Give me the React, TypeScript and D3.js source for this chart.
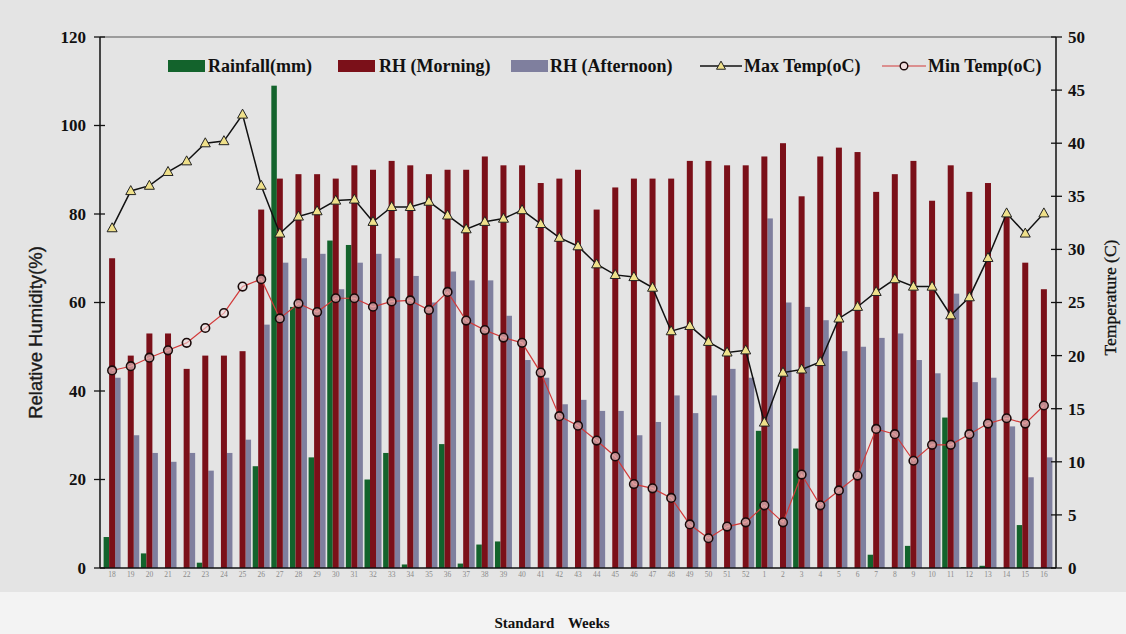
import React from 'react';
import * as d3 from 'd3';

// Standard meteorological weeks (18–52, then 1–16 of the following year)
const weeks: string[] = [
  '18', '19', '20', '21', '22', '23', '24', '25', '26', '27', '28', '29', '30', '31', '32', '33', '34',
  '35', '36', '37', '38', '39', '40', '41', '42', '43', '44', '45', '46', '47', '48', '49', '50', '51', '52',
  '1', '2', '3', '4', '5', '6', '7', '8', '9', '10', '11', '12', '13', '14', '15', '16',
];

const rainfall: number[] = [
  7, 0, 3.3, 0, 0, 1.2, 0, 0, 23, 109, 59, 25, 74, 73, 20, 26, 0.8,
  0, 28, 1, 5.3, 6, 0, 0, 0, 0, 0, 0, 0, 0, 0, 0, 0, 0, 0,
  31, 0, 27, 0, 0, 0, 3, 0, 5, 0, 34, 0.2, 0.5, 0, 9.7, 0,
];

const rhMorning: number[] = [
  70, 48, 53, 53, 45, 48, 48, 49, 81, 88, 89, 89, 88, 91, 90, 92, 91,
  89, 90, 90, 93, 91, 91, 87, 88, 90, 81, 86, 88, 88, 88, 92, 92, 91, 91,
  93, 96, 84, 93, 95, 94, 85, 89, 92, 83, 91, 85, 87, 80, 69, 63,
];

const rhAfternoon: number[] = [
  43, 30, 26, 24, 26, 22, 26, 29, 55, 69, 70, 71, 63, 69, 71, 70, 66,
  60, 67, 65, 65, 57, 47, 43, 37, 38, 35.5, 35.5, 30, 33, 39, 35, 39, 45, 43,
  79, 60, 59, 56, 49, 50, 52, 53, 47, 44, 62, 42, 43, 32, 20.5, 25,
];

const maxTemp: number[] = [
  32.0, 35.5, 36.0, 37.3, 38.3, 40.0, 40.2, 42.7, 36.0, 31.5, 33.1, 33.6, 34.6, 34.7, 32.6, 34.0, 34.0,
  34.5, 33.2, 31.9, 32.6, 32.9, 33.7, 32.4, 31.1, 30.3, 28.6, 27.6, 27.4, 26.4, 22.3, 22.8, 21.3, 20.3, 20.5,
  13.7, 18.4, 18.7, 19.4, 23.5, 24.6, 26.0, 27.2, 26.5, 26.5, 23.8, 25.5, 29.2, 33.4, 31.5, 33.4,
];

const minTemp: number[] = [
  18.6, 19.0, 19.8, 20.5, 21.2, 22.6, 24.0, 26.5, 27.2, 23.5, 24.9, 24.1, 25.4, 25.4, 24.6, 25.1, 25.2,
  24.3, 26.0, 23.3, 22.4, 21.7, 21.2, 18.4, 14.3, 13.4, 12.0, 10.5, 7.9, 7.5, 6.6, 4.1, 2.8, 3.9, 4.3,
  5.9, 4.3, 8.8, 5.9, 7.3, 8.7, 13.1, 12.6, 10.1, 11.6, 11.6, 12.6, 13.6, 14.1, 13.6, 15.3,
];

const rhTicks: number[] = [0, 20, 40, 60, 80, 100, 120];
const tempTicks: number[] = [0, 5, 10, 15, 20, 25, 30, 35, 40, 45, 50];

const W = 1126;
const H = 634;
const M = { left: 100, right: 1056, top: 37, bottom: 568 };

const C_RAIN = '#13632c';
const C_RHM = '#7b1019';
const C_RHA = '#7f7f9e';
const C_MIN = '#d23a3a';
const C_TRI = '#efe08a';

const serif = '"Liberation Serif", "Times New Roman", serif';
const sans = '"Liberation Sans", Arial, sans-serif';

function trianglePath(cx: number, cy: number, s: number) {
  const h = s * 0.9;
  return `M${cx},${cy - h * 0.6}L${cx + s / 2},${cy + h * 0.4}L${cx - s / 2},${cy + h * 0.4}Z`;
}

export default function App() {
  const x = d3.scalePoint<string>().domain(weeks).range([M.left, M.right]).padding(0.65);
  const yL = d3.scaleLinear().domain([0, 120]).range([M.bottom, M.top]);
  const yR = d3.scaleLinear().domain([0, 50]).range([M.bottom, M.top]);

  const cx = (i: number) => x(weeks[i]) as number;

  const tempLine = d3.line<number>().x((_, i) => cx(i)).y((d) => yR(d));

  const bw = 5.5;
  const redW = 6;

  const legendY = 66;

  return (
    <svg
      width={W}
      height={H}
      viewBox={`0 0 ${W} ${H}`}
      style={{ position: 'absolute', left: 0, top: 0, display: 'block' }}
    >
      <rect x={0} y={0} width={W} height={592} fill="#e4e4e4" />
      <rect x={0} y={592} width={W} height={H - 592} fill="#f3f3f3" />

      {/* top frame line */}
      <line x1={M.left} x2={M.right} y1={M.top} y2={M.top} stroke="#555" strokeWidth={1} />

      {/* bars */}
      <g>
        {weeks.map((w, i) => {
          const c = cx(i);
          return (
            <g key={w + '-' + i}>
              <rect x={c - redW / 2 - bw} y={yL(rainfall[i])} width={bw} height={M.bottom - yL(rainfall[i])} fill={C_RAIN} />
              <rect x={c + redW / 2} y={yL(rhAfternoon[i])} width={bw} height={M.bottom - yL(rhAfternoon[i])} fill={C_RHA} />
              <rect x={c - redW / 2} y={yL(rhMorning[i])} width={redW} height={M.bottom - yL(rhMorning[i])} fill={C_RHM} />
            </g>
          );
        })}
      </g>

      {/* min temperature */}
      <path d={tempLine(minTemp) || ''} fill="none" stroke={C_MIN} strokeWidth={1.2} />
      {minTemp.map((v, i) => (
        <circle key={'mn' + i} cx={cx(i)} cy={yR(v)} r={4.3} fill="#f1dede" fillOpacity={0.6} stroke="#1a0a0a" strokeWidth={1.6} />
      ))}

      {/* max temperature */}
      <path d={tempLine(maxTemp) || ''} fill="none" stroke="#111" strokeWidth={1.5} />
      {maxTemp.map((v, i) => (
        <path key={'mx' + i} d={trianglePath(cx(i), yR(v), 10)} fill={C_TRI} stroke="#222" strokeWidth={1} />
      ))}

      {/* left axis */}
      <g>
        <line x1={M.left} x2={M.left} y1={M.top} y2={M.bottom} stroke="#111" strokeWidth={1.5} />
        {rhTicks.map((t) => (
          <g key={'l' + t}>
            <line x1={M.left - 6} x2={M.left + 5} y1={yL(t)} y2={yL(t)} stroke="#111" strokeWidth={1.3} />
            <text x={M.left - 14} y={yL(t)} dy="0.35em" textAnchor="end" fontFamily={serif} fontWeight="bold" fontSize={17} fill="#111">
              {t}
            </text>
          </g>
        ))}
      </g>

      {/* right axis */}
      <g>
        <line x1={M.right} x2={M.right} y1={M.top} y2={M.bottom} stroke="#111" strokeWidth={1.5} />
        {tempTicks.map((t) => (
          <g key={'r' + t}>
            <line x1={M.right - 5} x2={M.right + 6} y1={yR(t)} y2={yR(t)} stroke="#111" strokeWidth={1.3} />
            <text x={M.right + 12} y={yR(t)} dy="0.35em" textAnchor="start" fontFamily={serif} fontWeight="bold" fontSize={17} fill="#111">
              {t}
            </text>
          </g>
        ))}
      </g>

      {/* bottom axis */}
      <line x1={M.left} x2={M.right} y1={M.bottom} y2={M.bottom} stroke="#111" strokeWidth={1.5} />
      {weeks.map((w, i) => (
        <text key={'xt' + i} x={cx(i)} y={M.bottom + 9} textAnchor="middle" fontFamily={serif} fontSize={7.5} fill="#8a8a8a">
          {w}
        </text>
      ))}

      {/* axis titles */}
      <text
        transform={`translate(42, ${(M.top + M.bottom) / 2 + 30}) rotate(-90)`}
        textAnchor="middle"
        fontFamily={sans}
        fontSize={18.5}
        fill="#1a1a1a"
        stroke="#1a1a1a"
        strokeWidth={0.35}
      >
        Relative Humidity(%)
      </text>
      <text
        transform={`translate(1116, ${(M.top + M.bottom) / 2 - 5}) rotate(-90)`}
        textAnchor="middle"
        fontFamily={serif}
        fontSize={17.5}
        fill="#111"
        stroke="#111"
        strokeWidth={0.3}
      >
        Temperature (C)
      </text>
      <text x={552} y={628} textAnchor="middle" fontFamily={serif} fontWeight="bold" fontSize={15} wordSpacing={10} fill="#111">
        Standard Weeks
      </text>

      {/* legend */}
      <g fontFamily={serif} fontWeight="bold" fontSize={18} fill="#111">
        <rect x={168} y={legendY - 6} width={37} height={12} fill={C_RAIN} />
        <text x={208} y={legendY} dy="0.35em">Rainfall(mm)</text>
        <rect x={338} y={legendY - 6} width={37} height={12} fill={C_RHM} />
        <text x={379} y={legendY} dy="0.35em">RH (Morning)</text>
        <rect x={511} y={legendY - 6} width={37} height={12} fill={C_RHA} />
        <text x={550} y={legendY} dy="0.35em">RH (Afternoon)</text>
        <line x1={700} x2={742} y1={legendY} y2={legendY} stroke="#111" strokeWidth={1.5} />
        <path d={trianglePath(721, legendY, 9)} fill={C_TRI} stroke="#222" strokeWidth={1} />
        <text x={744} y={legendY} dy="0.35em">Max Temp(oC)</text>
        <line x1={882} x2={926} y1={legendY} y2={legendY} stroke={C_MIN} strokeWidth={1.2} />
        <circle cx={904} cy={legendY} r={3.8} fill="#f1dede" stroke="#1a0a0a" strokeWidth={1.4} />
        <text x={928} y={legendY} dy="0.35em">Min Temp(oC)</text>
      </g>
    </svg>
  );
}
